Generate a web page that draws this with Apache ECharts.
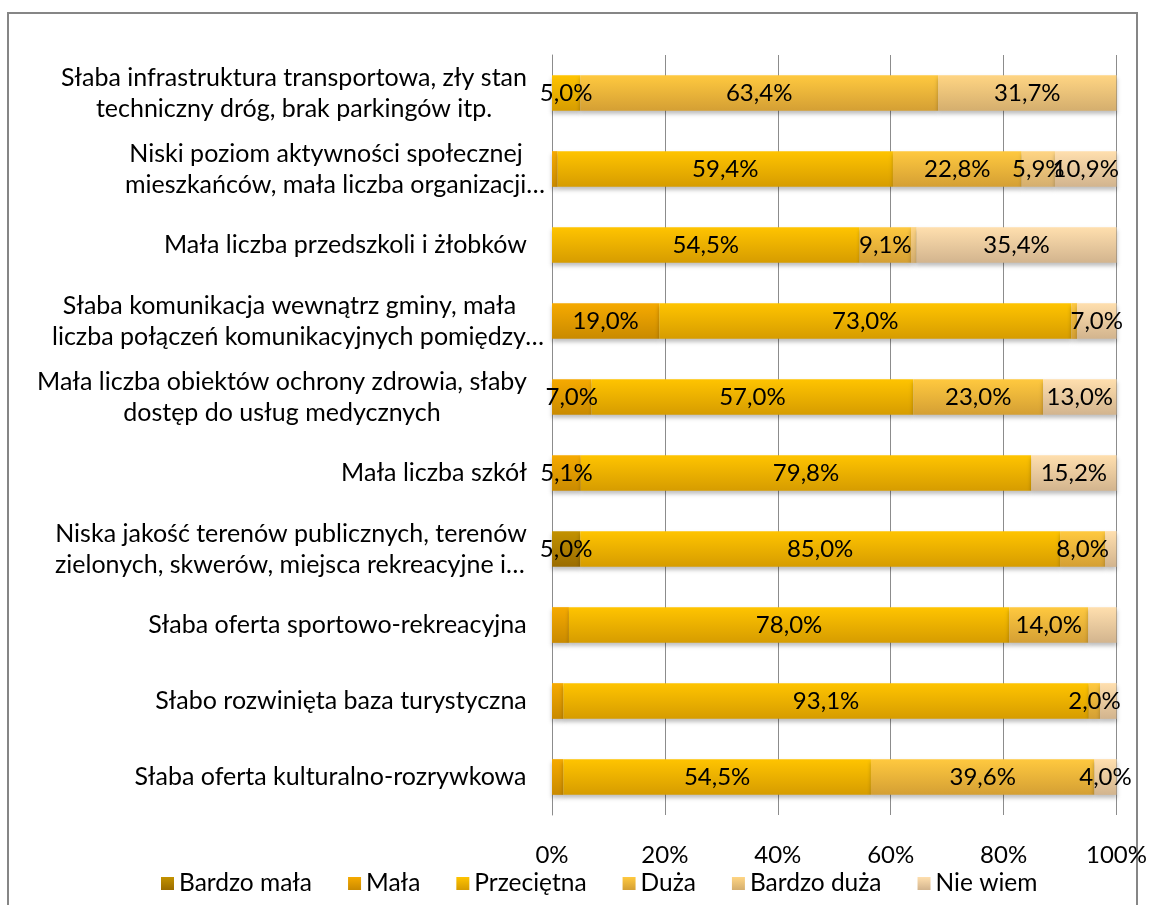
<!DOCTYPE html>
<html>
<head>
<meta charset="utf-8">
<script src="https://cdn.jsdelivr.net/npm/echarts@6/dist/echarts.min.js"></script>
<style>
  html, body { margin: 0; padding: 0; background: #fff; }
  #chart { width: 1150px; height: 905px; }
</style>
</head>
<body>
<div id="chart"></div>
<script>
// kategorie (od góry)
var categories = [
  'Słaba infrastruktura transportowa, zły stan\ntechniczny dróg, brak parkingów itp.',
  'Niski poziom aktywności społecznej\nmieszkańców, mała liczba organizacji…',
  'Mała liczba przedszkoli i żłobków',
  'Słaba komunikacja wewnątrz gminy, mała\nliczba połączeń komunikacyjnych pomiędzy…',
  'Mała liczba obiektów ochrony zdrowia, słaby\ndostęp do usług medycznych',
  'Mała liczba szkół',
  'Niska jakość terenów publicznych, terenów\nzielonych, skwerów, miejsca rekreacyjne i…',
  'Słaba oferta sportowo-rekreacyjna',
  'Słabo rozwinięta baza turystyczna',
  'Słaba oferta kulturalno-rozrywkowa'
];
var seriesNames = ['Bardzo mała', 'Mała', 'Przeciętna', 'Duża', 'Bardzo duża', 'Nie wiem'];
var bardzoMala = [0, 0, 0, 0, 0, 0, 5.0, 0, 0, 0];
var mala       = [0, 1.0, 0, 19.0, 7.0, 5.1, 0, 3.0, 2.0, 2.0];
var przecietna = [5.0, 59.4, 54.5, 73.0, 57.0, 79.8, 85.0, 78.0, 93.1, 54.5];
var duza       = [63.4, 22.8, 9.1, 1.0, 23.0, 0, 8.0, 14.0, 2.0, 39.6];
var bardzoDuza = [31.7, 5.9, 1.0, 0, 0, 0, 0, 0, 0, 0];
var nieWiem    = [0, 10.9, 35.4, 7.0, 13.0, 15.2, 2.0, 5.0, 3.0, 4.0];
// etykiety usunięte na wykresie: [kategoria, seria]
var hiddenLabels = [[1, 1], [2, 4], [3, 3], [6, 5], [7, 1], [7, 5], [8, 1], [8, 5], [9, 1]];
var xTicks = [0, 20, 40, 60, 80, 100];

var values = [bardzoMala, mala, przecietna, duza, bardzoDuza, nieWiem];
var colors = [
  ['#C39200', '#9A6C00'],
  ['#F6AA00', '#C98A00'],
  ['#FFC400', '#D69C00'],
  ['#FFC93F', '#D49F34'],
  ['#FFD583', '#D4AE6E'],
  ['#FFDFAE', '#D2B48E']
];
var FONT = 'Lato, Carlito, "Open Sans", sans-serif';
var FS = 24;
var FS_CAT = 25;

var hidden = {};
hiddenLabels.forEach(function (h) { hidden[h[0] + '-' + h[1]] = true; });

// szerokości etykiet osi Y (linie centrowane w bloku)
var ctx = document.createElement('canvas').getContext('2d');
ctx.font = FS_CAT + 'px ' + FONT;
var rich = {};
categories.forEach(function (c, i) {
  var w = 0;
  c.split('\n').forEach(function (l) {
    w = Math.max(w, ctx.measureText(l.replace(/…$/, '')).width);
  });
  w = Math.ceil(w);
  rich['c' + i] = { width: w, align: 'center', fontSize: FS_CAT, fontFamily: FONT, color: '#000', lineHeight: 31 };
  rich['e' + i] = { width: w, align: 'left', fontSize: FS_CAT, fontFamily: FONT, color: '#000', lineHeight: 31 };
});

var myChart = echarts.init(document.getElementById('chart'));

var series = seriesNames.map(function (name, s) {
  return {
    name: name,
    type: 'bar',
    stack: 'total',
    barWidth: '47%',
    data: values[s],
    itemStyle: {
      color: new echarts.graphic.LinearGradient(0, 0, 0, 1, [
        { offset: 0, color: colors[s][0] },
        { offset: 1, color: colors[s][1] }
      ]),
      shadowColor: 'rgba(0,0,0,0.25)',
      shadowBlur: 4,
      shadowOffsetY: 3
    },
    label: {
      show: true,
      position: 'inside',
      color: '#000',
      fontSize: FS,
      fontFamily: FONT,
      formatter: function (p) {
        if (!p.value || hidden[p.dataIndex + '-' + s]) return '';
        return p.value.toFixed(1).replace('.', ',') + '%';
      }
    },
    emphasis: { disabled: true }
  };
});

var option = {
  animation: false,
  backgroundColor: '#fff',
  graphic: [{
    type: 'rect',
    shape: { x: 8, y: 13, width: 1129, height: 920 },
    style: { fill: 'none', stroke: '#868686', lineWidth: 2 },
    silent: true
  }],
  grid: { left: 552, right: 33, top: 55, bottom: 90 },
  legend: {
    bottom: 4,
    left: 156,
    itemWidth: 13,
    itemHeight: 13,
    itemGap: 36,
    icon: 'rect',
    textStyle: { fontSize: 24.5, fontFamily: FONT, color: '#000' },
    data: seriesNames
  },
  xAxis: {
    type: 'value',
    min: xTicks[0],
    max: xTicks[xTicks.length - 1],
    interval: xTicks[1] - xTicks[0],
    axisLine: { show: false },
    axisTick: { show: false },
    splitLine: { lineStyle: { color: '#8C8C8C', width: 1 } },
    axisLabel: {
      formatter: '{value}%',
      fontSize: FS,
      fontFamily: FONT,
      color: '#000',
      margin: 28
    }
  },
  yAxis: {
    type: 'category',
    inverse: true,
    data: categories,
    axisLine: { show: true, lineStyle: { color: '#8C8C8C', width: 1 } },
    axisTick: { show: false },
    axisLabel: {
      margin: 25,
      fontSize: FS_CAT,
      fontFamily: FONT,
      color: '#000',
      lineHeight: 31,
      rich: rich,
      formatter: function (value, index) {
        return value.split('\n').map(function (l) {
          return '{' + (/…$/.test(l) ? 'e' : 'c') + index + '|' + l + '}';
        }).join('\n');
      }
    }
  },
  series: series
};

myChart.setOption(option);
</script>
</body>
</html>
